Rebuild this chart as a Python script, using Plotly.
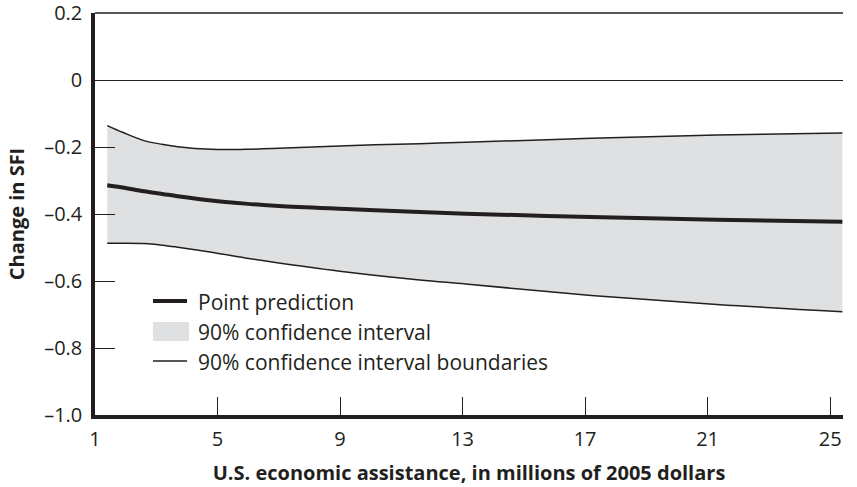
import plotly.graph_objects as go

# Data
x_vals = [1.4, 1.9, 2.6, 3.2, 3.7, 4.8, 5.9, 7.0, 9.2, 11.6, 13.1, 17.2, 21.3, 25.4]
upper = [-0.136, -0.156, -0.181, -0.192, -0.199, -0.207, -0.207, -0.204, -0.196, -0.190,
         -0.186, -0.174, -0.164, -0.158]
point = [-0.314, -0.321, -0.332, -0.340, -0.347, -0.360, -0.369, -0.376, -0.385, -0.394,
         -0.399, -0.409, -0.417, -0.423]
lower = [-0.487, -0.487, -0.488, -0.493, -0.499, -0.514, -0.531, -0.546, -0.573, -0.597,
         -0.609, -0.643, -0.670, -0.692]

x_ticks = [1, 5, 9, 13, 17, 21, 25]
y_ticks = [0.2, 0, -0.2, -0.4, -0.6, -0.8, -1.0]
y_tick_labels = ["0.2", "0", "\u20130.2", "\u20130.4", "\u20130.6", "\u20130.8", "\u20131.0"]

legend_labels = ["Point prediction", "90% confidence interval",
                 "90% confidence interval boundaries"]

INK = "#231f20"
FILL = "#dfe0e2"
FONT = "Open Sans"

fig = go.Figure()

# CI band
fig.add_trace(go.Scatter(x=x_vals, y=lower, mode="lines",
                         line=dict(width=0, shape="spline"),
                         showlegend=False, hoverinfo="skip"))
fig.add_trace(go.Scatter(x=x_vals, y=upper, mode="lines",
                         line=dict(width=0, shape="spline"),
                         fill="tonexty", fillcolor=FILL, showlegend=False))
# boundaries
fig.add_trace(go.Scatter(x=x_vals, y=lower, mode="lines",
                         line=dict(color=INK, width=1.5, shape="spline"),
                         showlegend=False))
fig.add_trace(go.Scatter(x=x_vals, y=upper, mode="lines",
                         line=dict(color=INK, width=1.5, shape="spline"),
                         showlegend=False))
# point prediction
fig.add_trace(go.Scatter(x=x_vals, y=point, mode="lines",
                         line=dict(color=INK, width=4, shape="spline"),
                         showlegend=False))

# top frame line
fig.add_shape(type="line", xref="paper", yref="paper", x0=0, x1=1, y0=1, y1=1,
              line=dict(color=INK, width=1.3), layer="above")

# legend (drawn as decoration in paper coordinates)
sym_x0, sym_x1 = 0.0775, 0.123
fig.add_shape(type="line", xref="paper", yref="paper", x0=sym_x0, x1=sym_x1,
              y0=0.2836, y1=0.2836, line=dict(color=INK, width=4))
fig.add_shape(type="rect", xref="paper", yref="paper", x0=sym_x0, x1=0.1257,
              y0=0.184, y1=0.2313, fillcolor=FILL, line=dict(width=0))
fig.add_shape(type="line", xref="paper", yref="paper", x0=sym_x0, x1=sym_x1,
              y0=0.1343, y1=0.1343, line=dict(color=INK, width=1.3))
for label, ypos in zip(legend_labels, [0.281, 0.206, 0.131]):
    fig.add_annotation(text=label, xref="paper", yref="paper", x=0.135, y=ypos,
                       xanchor="left", yanchor="middle", showarrow=False,
                       font=dict(family=FONT, size=21, color=INK))

fig.update_layout(
    width=857, height=487,
    margin=dict(l=95, r=14, t=13, b=72),
    paper_bgcolor="white", plot_bgcolor="white",
    font=dict(family=FONT, size=20, color=INK),
    showlegend=False,
    xaxis=dict(range=[1, 25.42], tickvals=x_ticks, ticks="inside", ticklen=18,
               tickwidth=1.3, tickcolor=INK, showline=True, linewidth=3.5, linecolor=INK,
               showgrid=False, zeroline=False, automargin=False, ticklabelstandoff=3,
               ticklabeloverflow="allow", tickfont=dict(size=20),
               title=dict(text="<b>U.S. economic assistance, in millions of 2005 dollars</b>",
                          font=dict(size=20), standoff=16)),
    yaxis=dict(range=[-1.0, 0.2], tickvals=y_ticks, ticktext=y_tick_labels,
               ticks="inside", ticklen=20, tickwidth=1.3, tickcolor=INK,
               showline=True, linewidth=3.5, linecolor=INK, showgrid=False,
               zeroline=True, zerolinecolor=INK, zerolinewidth=1.3,
               automargin=False, ticklabelstandoff=5, ticklabeloverflow="allow",
               tickfont=dict(size=20),
               title=dict(text="<b>Change in SFI</b>", font=dict(size=20), standoff=15)),
)

fig.write_html("out.html", config={"displayModeBar": False},
               post_script="document.body.style.margin='0';document.body.style.overflow='hidden';")
